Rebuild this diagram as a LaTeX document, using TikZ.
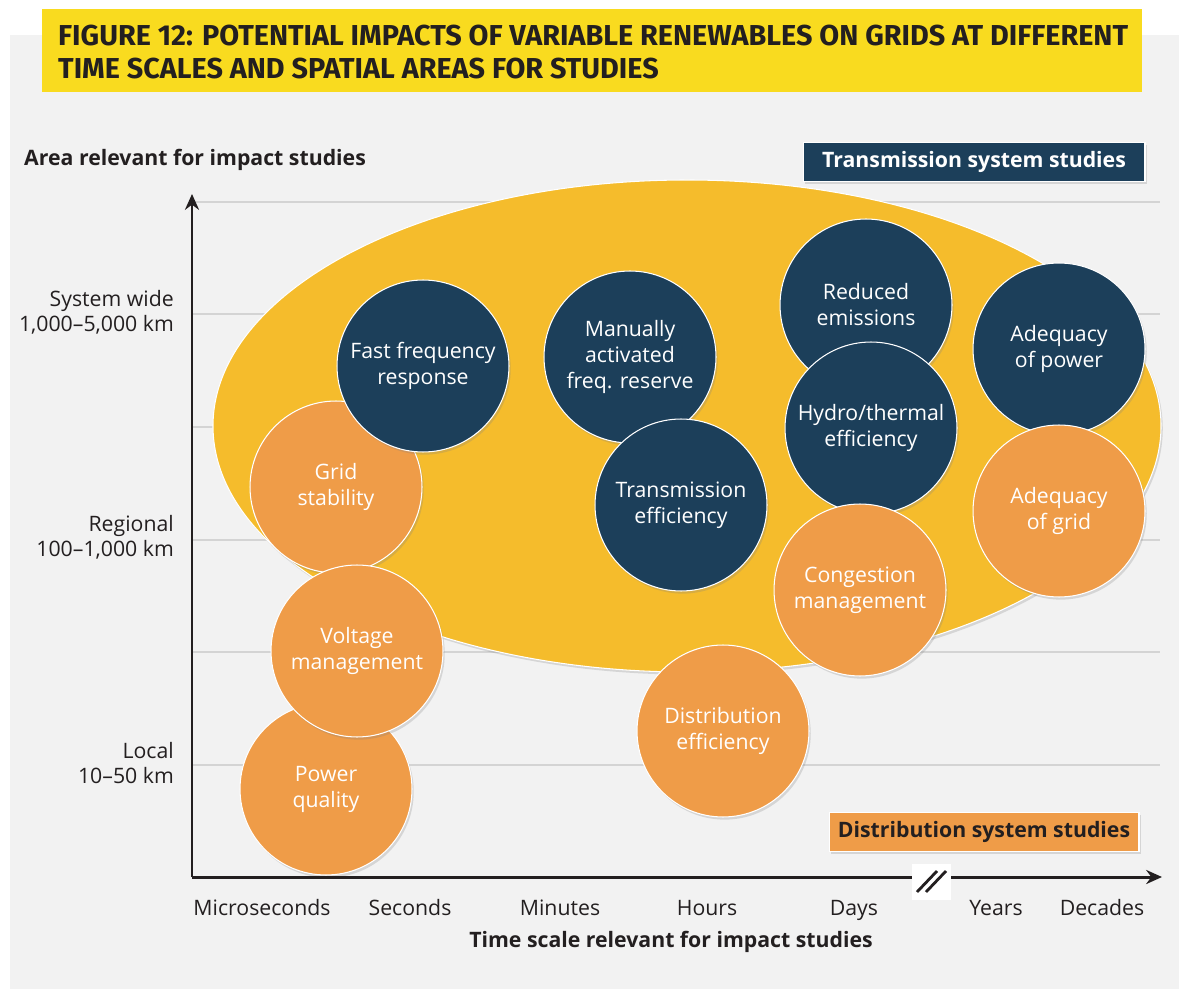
\documentclass[tikz,border=0pt]{standalone}
\usepackage{fontspec}
\setmainfont{Open Sans}
\newfontfamily\titlefont{Fira Sans}
\usetikzlibrary{shadows,arrows.meta}
\definecolor{navy}{HTML}{1C3F5A}
\definecolor{impactorange}{HTML}{EF9C48}
\definecolor{ovalyellow}{HTML}{F5BC2C}
\definecolor{titleyellow}{HTML}{F9DB1F}
\definecolor{panelgray}{HTML}{F2F2F2}
\definecolor{gridgray}{HTML}{D4D4D4}
\definecolor{ink}{HTML}{231F20}
\tikzset{
  softshadow/.style={drop shadow={opacity=0.25, shadow xshift=1pt, shadow yshift=-1.5pt}},
  bubble/.style={circle, draw=white, line width=0.6pt, minimum size=3.44cm, inner sep=0pt,
    align=center, text=white, font=\fontsize{12.1}{14.8}\selectfont, softshadow},
  transbubble/.style={bubble, fill=navy},
  distbubble/.style={bubble, fill=impactorange},
  ticklabel/.style={text=ink, font=\fontsize{12.1}{14}\selectfont},
  axistitle/.style={text=ink, font=\fontsize{12.1}{14}\selectfont\bfseries},
  studybox/.style={draw=white, line width=0.6pt, minimum height=0.77cm, inner sep=0pt,
    font=\fontsize{12.1}{14}\selectfont\bfseries, softshadow},
  axisline/.style={draw=ink, line width=1.7pt, -{Stealth[length=9pt,width=8pt]}}
}
\begin{document}
\begin{tikzpicture}[x=0.02cm, y=-0.02cm]
  \useasboundingbox (0,0) rectangle (1179,989);
  \fill[white] (0,0) rectangle (1179,989);
  \fill[panelgray] (10,35) rectangle (1179,989);

  % title
  \fill[titleyellow] (42,9) rectangle (1142,92);
  \node[anchor=west, text=ink, align=left, font=\titlefont\fontsize{16.4}{18.8}\selectfont\bfseries] (title) at (52,52)
    {FIGURE 12: POTENTIAL IMPACTS OF VARIABLE RENEWABLES ON GRIDS AT DIFFERENT\\TIME SCALES AND SPATIAL AREAS FOR STUDIES};

  % grid
  \foreach \gy in {202,314,427,540,652,765}
    \draw[gridgray, line width=0.8pt] (192,\gy) -- (1160,\gy);

  % big oval
  \fill[ovalyellow, draw=white, line width=0.6pt, softshadow] (687,426) ellipse [x radius=474, y radius=246];

  % impact bubbles
  \node[distbubble] (powerq) at (326,789) {Power\\quality};
  \node[distbubble] (gridstab) at (336,487) {Grid\\stability};
  \node[distbubble] (voltage) at (357,651) {Voltage\\management};
  \node[transbubble] (fastfreq) at (423,366) {Fast frequency\\response};
  \node[transbubble] (manual) at (630,357) {Manually\\activated\\freq. reserve};
  \node[transbubble] (transeff) at (681,505) {Transmission\\efficiency};
  \node[transbubble] (reduced) at (866,305) {Reduced\\emissions};
  \node[transbubble] (hydro) at (871,428) {Hydro/thermal\\efficiency};
  \node[distbubble] (congest) at (860,590) {Congestion\\management};
  \node[transbubble] (adqpower) at (1059,349) {Adequacy\\of power};
  \node[distbubble] (adqgrid) at (1059,511) {Adequacy\\of grid};
  \node[distbubble] (distreff) at (723,731) {Distribution\\efficiency};

  % axes
  \coordinate (origin) at (192,877);
  \coordinate (ytop) at (192,194);
  \coordinate (xend) at (1162,877);
  \draw[axisline] (origin) -- (ytop);
  \draw[axisline] (origin) -- (xend);
  \fill[white] (912,864) rectangle (951,900);
  \draw[ink, line width=1.6pt] (917,892) -- (937,871);
  \draw[ink, line width=1.6pt] (926,892) -- (946,871);

  % axis labels
  \node[axistitle, anchor=west] (ytitle) at (18,160) {Area relevant for impact studies};
  \node[axistitle] (xtitle) at (671,942) {Time scale relevant for impact studies};
  \node[ticklabel, anchor=east, align=right] (syswide) at (180,312) {System wide\\1,000–5,000 km};
  \node[ticklabel, anchor=east, align=right] (regional) at (180,537) {Regional\\100–1,000 km};
  \node[ticklabel, anchor=east, align=right] (local) at (180,763) {Local\\10–50 km};
  \node[ticklabel, anchor=base] (micro) at (262,915) {Microseconds};
  \node[ticklabel, anchor=base] (sec) at (410,915) {Seconds};
  \node[ticklabel, anchor=base] (minutes) at (560,915) {Minutes};
  \node[ticklabel, anchor=base] (hours) at (707,915) {Hours};
  \node[ticklabel, anchor=base] (days) at (854,915) {Days};
  \node[ticklabel, anchor=base] (years) at (996,915) {Years};
  \node[ticklabel, anchor=base] (decades) at (1102,915) {Decades};

  % study legends
  \node[studybox, fill=navy, text=white, minimum width=6.84cm] (transstudy) at (974,162) {Transmission system studies};
  \node[studybox, fill=impactorange, text=ink, minimum width=6.2cm] (diststudy) at (984,832) {Distribution system studies};
\end{tikzpicture}
\end{document}
